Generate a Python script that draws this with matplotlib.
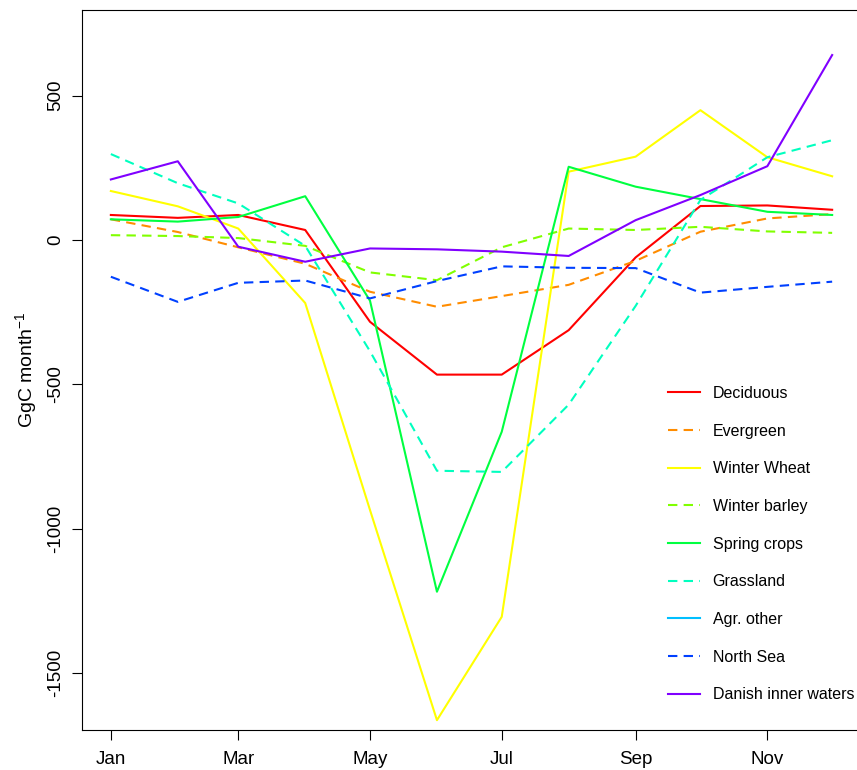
import numpy as np
import pandas as pd
import matplotlib
matplotlib.use("Agg")
import matplotlib.pyplot as plt
import matplotlib.dates as mdates

plt.rcParams['font.family'] = ['Liberation Sans', 'DejaVu Sans']
plt.rcParams['mathtext.fontset'] = 'custom'
plt.rcParams['mathtext.rm'] = 'Liberation Sans'
plt.rcParams['mathtext.it'] = 'Liberation Sans'

months = pd.date_range('2001-01-01', periods=12, freq='MS')

deciduous = [87, 77, 87, 35, -283, -466, -466, -312, -60, 118, 120, 105]
evergreen = [72, 28, -25, -82, -179, -231, -194, -155, -72, 29, 75, 90]
winter_wheat = [170, 117, 40, -218, -935, -1663, -1305, 237, 289, 450, 287, 221]
winter_barley = [17, 14, 7, -20, -112, -139, -25, 40, 35, 46, 30, 25]
spring_crops = [72, 64, 80, 152, -210, -1218, -664, 254, 185, 142, 98, 87]
grassland = [298, 197, 127, -20, -385, -799, -803, -570, -228, 139, 287, 346]
agr_other = [np.nan] * 12
north_sea = [-127, -214, -148, -140, -202, -142, -91, -96, -97, -182, -162, -144]
danish_inner = [210, 273, -23, -75, -29, -32, -40, -55, 69, 156, 256, 641]

labels = ['Deciduous', 'Evergreen', 'Winter Wheat', 'Winter barley', 'Spring crops',
          'Grassland', 'Agr. other', 'North Sea', 'Danish inner waters']
series = [deciduous, evergreen, winter_wheat, winter_barley, spring_crops,
          grassland, agr_other, north_sea, danish_inner]
colors = ['#FF0000', '#FF8C00', '#FFFF00', '#80FF00', '#00FF40',
          '#00FFBF', '#00BFFF', '#0040FF', '#8000FF']
dashed = [False, True, False, True, False, True, False, True, False]

y_ticks = [500, 0, -500, -1000, -1500]

fig = plt.figure(figsize=(8.57, 7.70), dpi=100)
ax = fig.add_axes([82/857, 40/770, (861-82)/857, 720/770])

for vals, lab, col, d in zip(series, labels, colors, dashed):
    if d:
        ax.plot(months, vals, color=col, lw=1.5, label=lab, dashes=(4.5, 3))
    else:
        ax.plot(months, vals, color=col, lw=1.5, label=lab)

span = months[-1] - months[0]
ax.set_xlim(months[0] - span * 0.04, months[-1] + span * 0.04)
ax.set_ylim(-1697, 797)

ax.xaxis.set_major_locator(mdates.MonthLocator(bymonth=[1, 3, 5, 7, 9, 11]))
ax.xaxis.set_major_formatter(mdates.DateFormatter('%b'))
ax.set_yticks(y_ticks)
ax.set_yticklabels([str(v) for v in y_ticks], rotation=90, va='center')

ax.tick_params(axis='both', direction='out', length=7, width=0.8, labelsize=13.5,
               colors='black')
ax.tick_params(axis='x', pad=8)
ax.tick_params(axis='y', pad=6)
for s in ax.spines.values():
    s.set_linewidth(0.8)
    s.set_color('black')

ax.set_ylabel(r'GgC month$^{-1}$', fontsize=14, labelpad=6)

leg = ax.legend(loc='upper left', bbox_to_anchor=(668/857, 1 - 386/770),
                bbox_transform=fig.transFigure, frameon=False, fontsize=11.5,
                handlelength=2.0, handletextpad=0.8, labelspacing=1.42,
                borderpad=0, borderaxespad=0)

fig.savefig('out.png', dpi=100)
